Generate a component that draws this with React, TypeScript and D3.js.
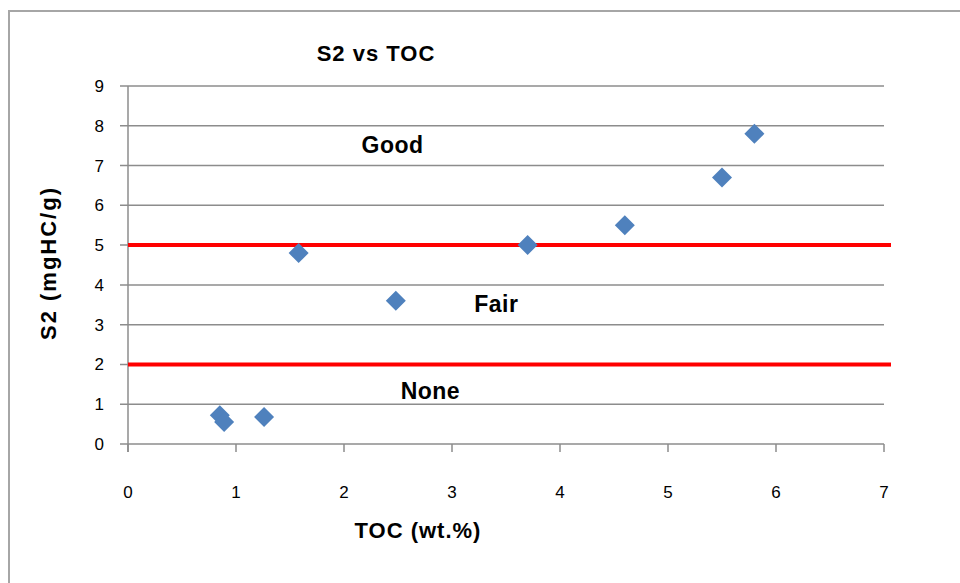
import React from "react";
import * as d3 from "d3";

const tocValues = [0.85, 0.89, 1.26, 1.58, 2.48, 3.7, 4.6, 5.5, 5.8];
const s2Values = [0.72, 0.55, 0.68, 4.8, 3.6, 5.0, 5.5, 6.7, 7.8];
const xTicks = [0, 1, 2, 3, 4, 5, 6, 7];
const yTicks = [0, 1, 2, 3, 4, 5, 6, 7, 8, 9];
const thresholds = [5, 2];
const zoneLabels = ["Good", "Fair", "None"];
const zoneX = [2.45, 3.41, 2.8];
const zoneY = [7.53, 3.52, 1.33];

export default function App() {
  const x = d3.scaleLinear().domain([0, 7]).range([128, 884]);
  const y = d3.scaleLinear().domain([0, 9]).range([444, 86]);
  const font = "'Liberation Sans', Arial, sans-serif";
  const r = 10;
  const diamond = `M0,${-r}L${r},0L0,${r}L${-r},0Z`;
  const grid = "#8c8c8c";
  return (
    <svg width={960} height={583} style={{ position: "absolute", left: 0, top: 0, background: "#fff" }} fontFamily={font}>
      <rect x={9} y={11} width={1000} height={620} fill="#fff" stroke="#a6a6a6" strokeWidth={2} />
      {yTicks.map((t) => (
        <g key={"y" + t}>
          <line x1={120} x2={x(7)} y1={y(t)} y2={y(t)} stroke={grid} strokeWidth={1.5} />
          <text x={104} y={y(t)} dy="0.35em" textAnchor="end" fontSize={17} fill="#000">{t}</text>
        </g>
      ))}
      <line x1={x(0)} x2={x(0)} y1={y(9)} y2={y(0) + 8} stroke={grid} strokeWidth={1.5} />
      {xTicks.map((t) => (
        <g key={"x" + t}>
          <line x1={x(t)} x2={x(t)} y1={y(0)} y2={y(0) + 8} stroke={grid} strokeWidth={1.5} />
          <text x={x(t)} y={492} dy="0.35em" textAnchor="middle" fontSize={17} fill="#000">{t}</text>
        </g>
      ))}
      {thresholds.map((t) => (
        <line key={"th" + t} x1={x(0)} x2={891} y1={y(t)} y2={y(t)} stroke="#ff0000" strokeWidth={4} />
      ))}
      {tocValues.map((v, i) => (
        <path key={"p" + i} d={diamond} transform={`translate(${x(v)},${y(s2Values[i])})`} fill="#4f81bd" />
      ))}
      {zoneLabels.map((l, i) => (
        <text key={l} x={x(zoneX[i])} y={y(zoneY[i])} dy="0.35em" textAnchor="middle" fontSize={23} fontWeight="bold" letterSpacing={0.5} fill="#000">{l}</text>
      ))}
      <text x={376} y={53} dy="0.35em" textAnchor="middle" fontSize={22} fontWeight="bold" letterSpacing={1}>S2 vs TOC</text>
      <text x={418} y={530} dy="0.35em" textAnchor="middle" fontSize={22} fontWeight="bold" letterSpacing={1}>TOC (wt.%)</text>
      <text transform="translate(48,263) rotate(-90)" dy="0.35em" textAnchor="middle" fontSize={22} fontWeight="bold" letterSpacing={2}>S2 (mgHC/g)</text>
    </svg>
  );
}
